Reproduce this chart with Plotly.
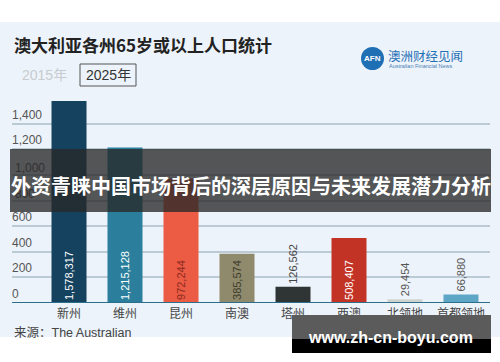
import plotly.graph_objects as go

W, H = 500, 362
L, R, T, B = 12, 10, 95, 59

states = ["新州", "维州", "昆州", "南澳", "塔州", "西澳", "北领地", "首都领地"]
population = [1578317, 1215128, 972244, 385574, 126562, 508407, 29454, 66880]
bar_colors = ["#15425f", "#2b7f9c", "#ec5b43", "#8f8a6c", "#2f3435", "#c33325", "#cfd3cf", "#5ea6c6"]
label_colors = ["#ffffff", "#ffffff", "#8b2b22", "#3d3b2c", "#444444", "#ffffff", "#555555", "#555555"]
label_pos = ["inside", "inside", "inside", "inside", "outside", "inside", "outside", "outside"]
y_ticks = [0, 200, 400, 600, 800, 1000, 1200, 1400]
y_tick_labels = ["0", "200", "400", "600", "800", "1,000", "1,200", "1,400"]
# labels lying under the headline band are drawn as axis labels (so the band dims them)
under_band = [800, 1000]

title = "澳大利亚各州65岁或以上人口统计"
overlay_text = "外资青睐中国市场背后的深层原因与未来发展潜力分析"
source_text = "来源：The Australian"
site_text = "www.zh-cn-boyu.com"

FONT = "Liberation Sans, Noto Sans CJK SC, sans-serif"
CJK = "Noto Sans CJK SC, sans-serif"

pw, ph = W - L - R, H - T - B
YMAX = ph / 0.128


def px(x):
    return (x - L) / pw


def py(y):
    return (H - B - y) / ph


fig = go.Figure()
fig.add_trace(go.Bar(
    x=states,
    y=[v / 1000 for v in population],
    marker=dict(color=bar_colors, line=dict(width=0)),
    text=[f"{v:,}" for v in population],
    textposition=label_pos,
    insidetextanchor="start",
    textangle=-90,
    textfont=dict(size=11, color=label_colors, family=FONT),
    constraintext="none",
    cliponaxis=False,
    hoverinfo="skip",
))

shapes = []
shapes.append(dict(type="rect", xref="paper", yref="paper", x0=px(0), x1=px(500), y0=py(337), y1=py(22),
                   fillcolor="#edf3fa", line=dict(width=0), layer="below"))
shapes.append(dict(type="line", xref="paper", yref="y", x0=0, x1=1, y0=0, y1=0,
                   line=dict(color="#2b6f8a", width=2), layer="above"))
shapes.append(dict(type="rect", xref="paper", yref="paper", x0=px(80), x1=px(136), y0=py(86), y1=py(64),
                   line=dict(color="#555555", width=1), fillcolor="rgba(0,0,0,0)"))
shapes.append(dict(type="circle", xref="paper", yref="paper", x0=px(361), x1=px(384), y0=py(70), y1=py(47),
                   fillcolor="#1f6fb5", line=dict(width=0)))
shapes.append(dict(type="rect", xref="paper", yref="paper", x0=px(10), x1=px(491), y0=py(212), y1=py(149),
                   fillcolor="rgba(40,40,40,0.78)", line=dict(width=0), layer="above"))
shapes.append(dict(type="rect", xref="paper", yref="paper", x0=px(292), x1=px(491), y0=py(339), y1=py(315),
                   fillcolor="#5b5b5b", line=dict(width=0), layer="above"))
shapes.append(dict(type="rect", xref="paper", yref="paper", x0=px(292), x1=px(491), y0=py(353), y1=py(339),
                   fillcolor="#000000", line=dict(width=0), layer="above"))

ann = []


def add_text(x, y, text, size, color, xanchor="left", bold=False, family=CJK):
    ann.append(dict(xref="paper", yref="paper", x=px(x), y=py(y), text=text, showarrow=False,
                    xanchor=xanchor, yanchor="middle",
                    font=dict(size=size, color=color, family=family, weight="bold" if bold else "normal")))


# y-axis value labels that sit above their gridlines (outside the headline band)
for v, t in zip(y_ticks, y_tick_labels):
    if v in under_band:
        continue
    ann.append(dict(xref="paper", yref="y", x=0, y=v, text=t, showarrow=False,
                    xanchor="left", yanchor="bottom", yshift=0, xshift=-2,
                    font=dict(size=12, color="#555555", family=FONT)))

add_text(12, 45, title, 17, "#222222", bold=True)
add_text(44, 75, "2015年", 14, "#c8ccd0", xanchor="center", family=FONT)
add_text(108, 75, "2025年", 14, "#333333", xanchor="center", family=FONT)
add_text(372.5, 58.5, "AFN", 8, "#ffffff", xanchor="center", bold=True, family=FONT)
add_text(386, 55, "澳洲财经见闻", 12.5, "#1f6fb5")
add_text(387, 66.5, "Australian Financial News", 5.5, "#4a7fb5", family=FONT)
add_text(12, 333, source_text, 12.5, "#444444", family=FONT)
add_text(250.5, 185, overlay_text, 20, "#ffffff", xanchor="center", bold=True)
add_text(390.5, 337, site_text, 16, "#ffffff", xanchor="center", bold=True, family=FONT)

fig.update_layout(
    width=W, height=H,
    margin=dict(l=L, r=R, t=T, b=B, pad=0),
    paper_bgcolor="#ffffff",
    plot_bgcolor="rgba(0,0,0,0)",
    showlegend=False,
    bargap=0.375,
    shapes=shapes,
    annotations=ann,
    xaxis=dict(range=[-1.018, 7.518], showgrid=False, zeroline=False, showline=False, ticks="",
               tickfont=dict(size=12, color="#444444", family=CJK), ticklabelstandoff=2),
    yaxis=dict(range=[0, YMAX], tickvals=y_ticks,
               ticktext=[t if v in under_band else "" for v, t in zip(y_ticks, y_tick_labels)],
               showgrid=True, gridcolor="#bccad6", gridwidth=1.5, zeroline=False, showline=False,
               ticks="", ticklabelposition="inside", ticklabelshift=-7, ticklabelstandoff=0,
               tickfont=dict(size=12, color="#555555", family=FONT)),
)

fig.write_html("out.html", config={"displayModeBar": False},
               post_script="document.body.style.margin='0';")
